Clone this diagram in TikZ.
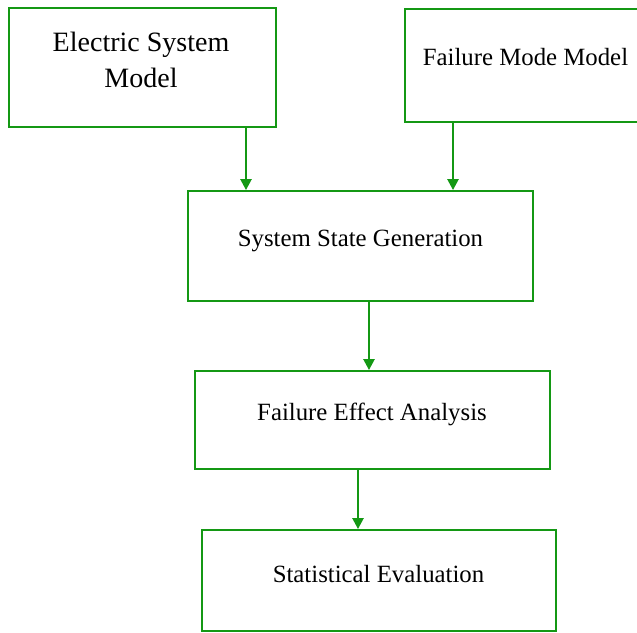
\documentclass[tikz,border=0pt]{standalone}
\usepackage{fontspec}
\setmainfont{Liberation Serif}
\usetikzlibrary{arrows.meta}
\definecolor{boxgreen}{RGB}{20,152,20}
\tikzset{
  stagebox/.style={draw=boxgreen, line width=1.8pt, rectangle, inner sep=0pt},
  stagetext/.style={inner sep=0pt, anchor=base, text=black, font=\fontsize{24.8}{30}\selectfont},
  bigtext/.style={inner sep=0pt, anchor=base, text=black, font=\fontsize{28}{34}\selectfont},
  flow/.style={draw=boxgreen, line width=2.4pt, -{Triangle[width=11pt,length=11pt]}}
}
\begin{document}
\begin{tikzpicture}[x=1pt,y=1pt]
\useasboundingbox (0,0) rectangle (637,632);
\clip (0,0) rectangle (637,632);
% boxes
\node[stagebox, minimum width=267pt, minimum height=119pt] (b1) at (142.5,564.5) {};
\node[stagebox, minimum width=245pt, minimum height=113pt] (b2) at (527.5,566.5) {};
\node[stagebox, minimum width=345pt, minimum height=110pt] (b3) at (360.5,386) {};
\node[stagebox, minimum width=355pt, minimum height=98pt] (b4) at (372.5,212) {};
\node[stagebox, minimum width=354pt, minimum height=101pt] (b5) at (379,51.5) {};
% texts
\node[bigtext] (t1a) at (141,580) {Electric System};
\node[bigtext] (t1b) at (141,544) {Model};
\node[stagetext] (t2) at (525.5,566) {Failure Mode Model};
\node[stagetext] (t3) at (360.5,385) {System State Generation};
\node[stagetext] (t4) at (372,211) {Failure Effect Analysis};
\node[stagetext] (t5) at (378.5,50) {Statistical Evaluation};
% connector x positions
\coordinate (x1) at (246,0);
\coordinate (x2) at (453,0);
\coordinate (x3) at (369,0);
\coordinate (x4) at (358,0);
% connectors
\draw[flow] (b1.south -| x1) -- (b3.north -| x1);
\draw[flow] (b2.south -| x2) -- (b3.north -| x2);
\draw[flow] (b3.south -| x3) -- (b4.north -| x3);
\draw[flow] (b4.south -| x4) -- (b5.north -| x4);
\end{tikzpicture}
\end{document}
